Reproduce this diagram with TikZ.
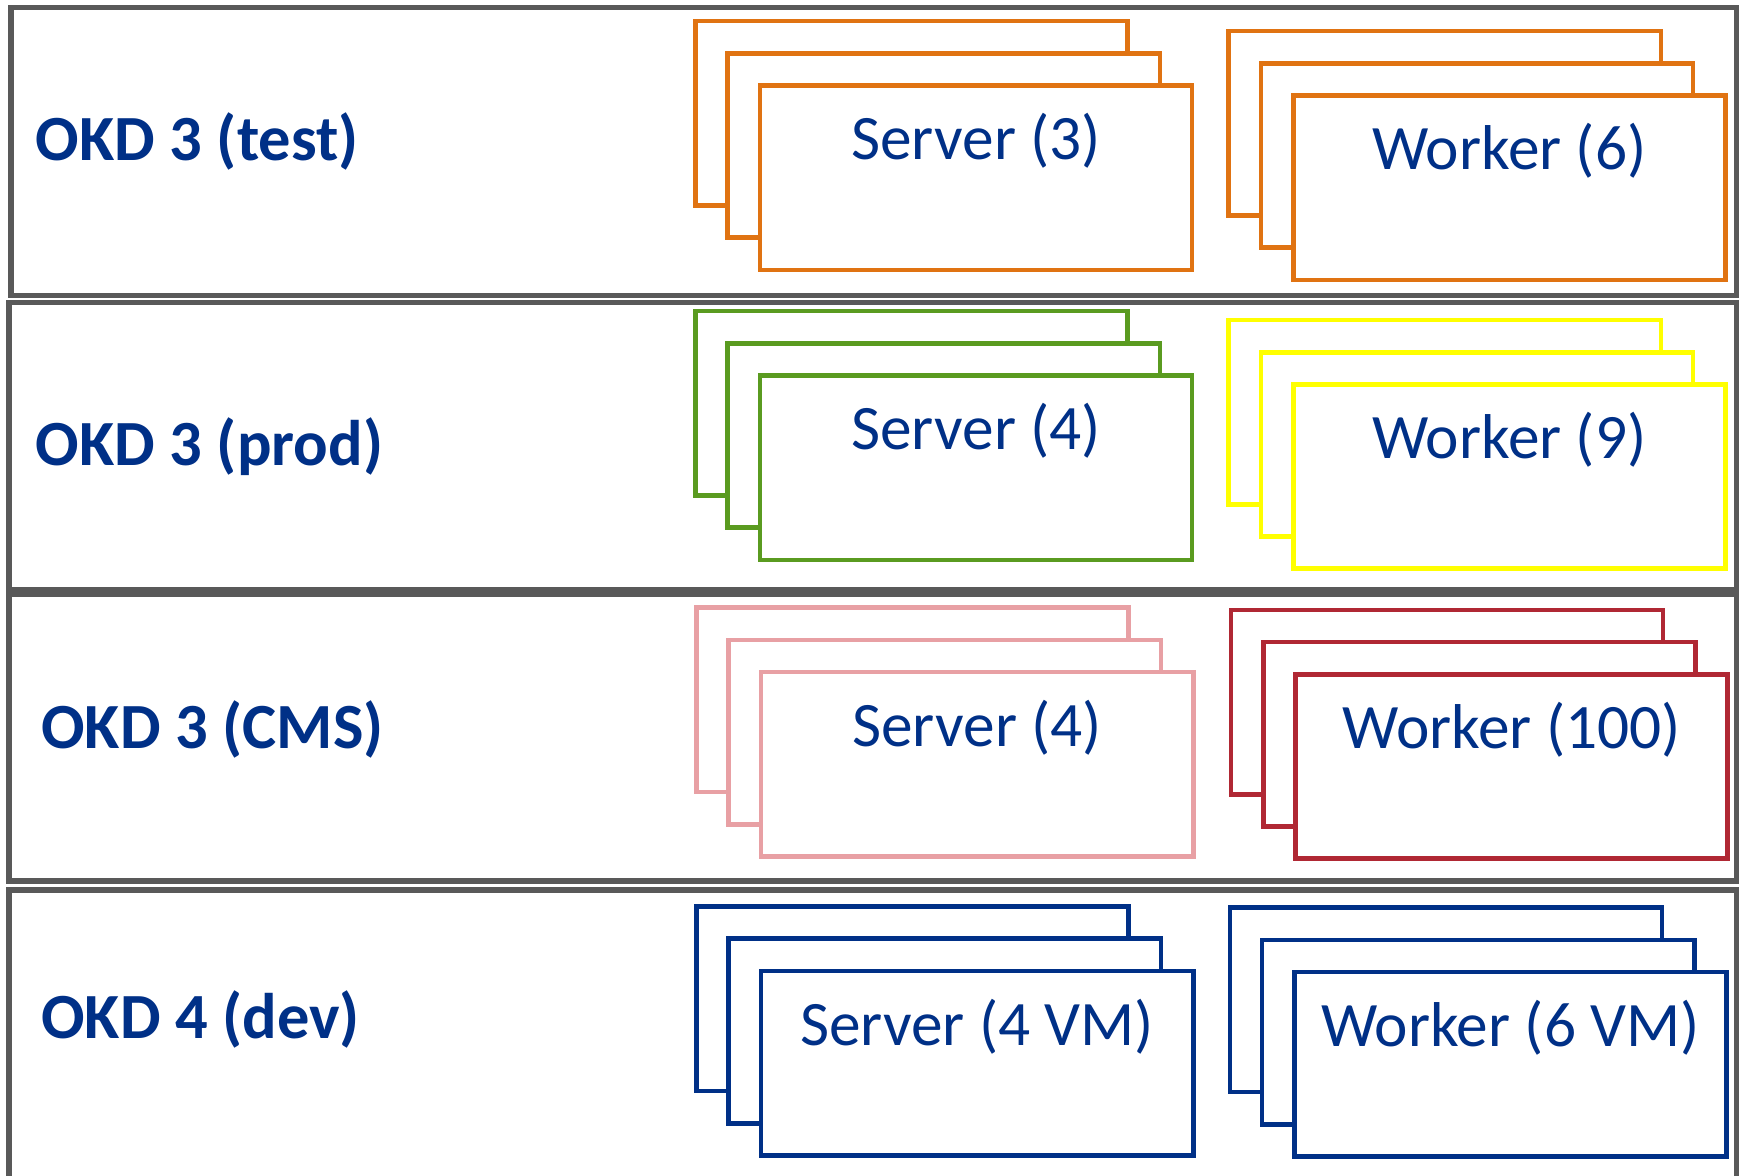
\documentclass[tikz,border=0pt]{standalone}
\usepackage{fontspec}
\setmainfont{Carlito}
\definecolor{rowgray}{RGB}{89,89,89}
\definecolor{okdblue}{RGB}{0,48,135}
\definecolor{corange}{RGB}{224,115,18}
\definecolor{cgreen}{RGB}{90,155,32}
\definecolor{cyellow}{RGB}{255,255,0}
\definecolor{cpink}{RGB}{232,160,164}
\definecolor{cdarkred}{RGB}{176,40,52}
\definecolor{cblue}{RGB}{0,48,135}
\newcommand\mystack[5]{%
  \node[card=#4] (#1a) at (#2,#3) {};
  \node[card=#4] (#1b) at (#2+29,#3+29) {};
  \node[card=#4] (#1c) at (#2+58,#3+58) {};
  \node[cardtxt] (#1t) at (#2+58+194.5,#3+58+50) {#5};
}
\begin{document}
\begin{tikzpicture}[x=1pt,y=-1pt,
  rowbox/.style={draw=rowgray, line width=4.8pt, anchor=north west, inner sep=0, outer sep=0},
  card/.style={draw=#1, line width=4.2pt, fill=white, minimum width=389pt, minimum height=166pt, anchor=north west, inner sep=0, outer sep=0},
  lbl/.style={font=\fontsize{58}{60}\selectfont\bfseries, text=okdblue, anchor=west, inner sep=0},
  cardtxt/.style={font=\fontsize{57}{60}\selectfont, text=okdblue, inner sep=0}]
\useasboundingbox (0,0) rectangle (1568,1058);
\fill[white] (0,0) rectangle (1568,1058);
\node[rowbox, minimum width=1553pt, minimum height=259pt] (r1) at (10,7) {};
\node[rowbox, minimum width=1555pt, minimum height=259pt] (r2) at (8,272) {};
\node[rowbox, minimum width=1555pt, minimum height=258pt] (r3) at (8,535) {};
\node[rowbox, minimum width=1555pt, minimum height=280pt] (r4) at (8,801) {};
\node[lbl] (l1) at (32,127) {OKD 3 (test)};
\node[lbl] (l2) at (32,402) {OKD 3 (prod)};
\node[lbl] (l3) at (37,657) {OKD 3 (CMS)};
\node[lbl] (l4) at (37,918) {OKD 4 (dev)};
\mystack{s1}{626}{19}{corange}{Server (3)}
\mystack{w1}{1106}{28}{corange}{Worker (6)}
\mystack{s2}{626}{280}{cgreen}{Server (4)}
\mystack{w2}{1106}{288}{cyellow}{Worker (9)}
\mystack{s3}{627}{547}{cpink}{Server (4)}
\mystack{w3}{1108}{549}{cdarkred}{Worker (100)}
\mystack{s4}{627}{816}{cblue}{Server (4 VM)}
\mystack{w4}{1107}{817}{cblue}{Worker (6 VM)}
\end{tikzpicture}
\end{document}
